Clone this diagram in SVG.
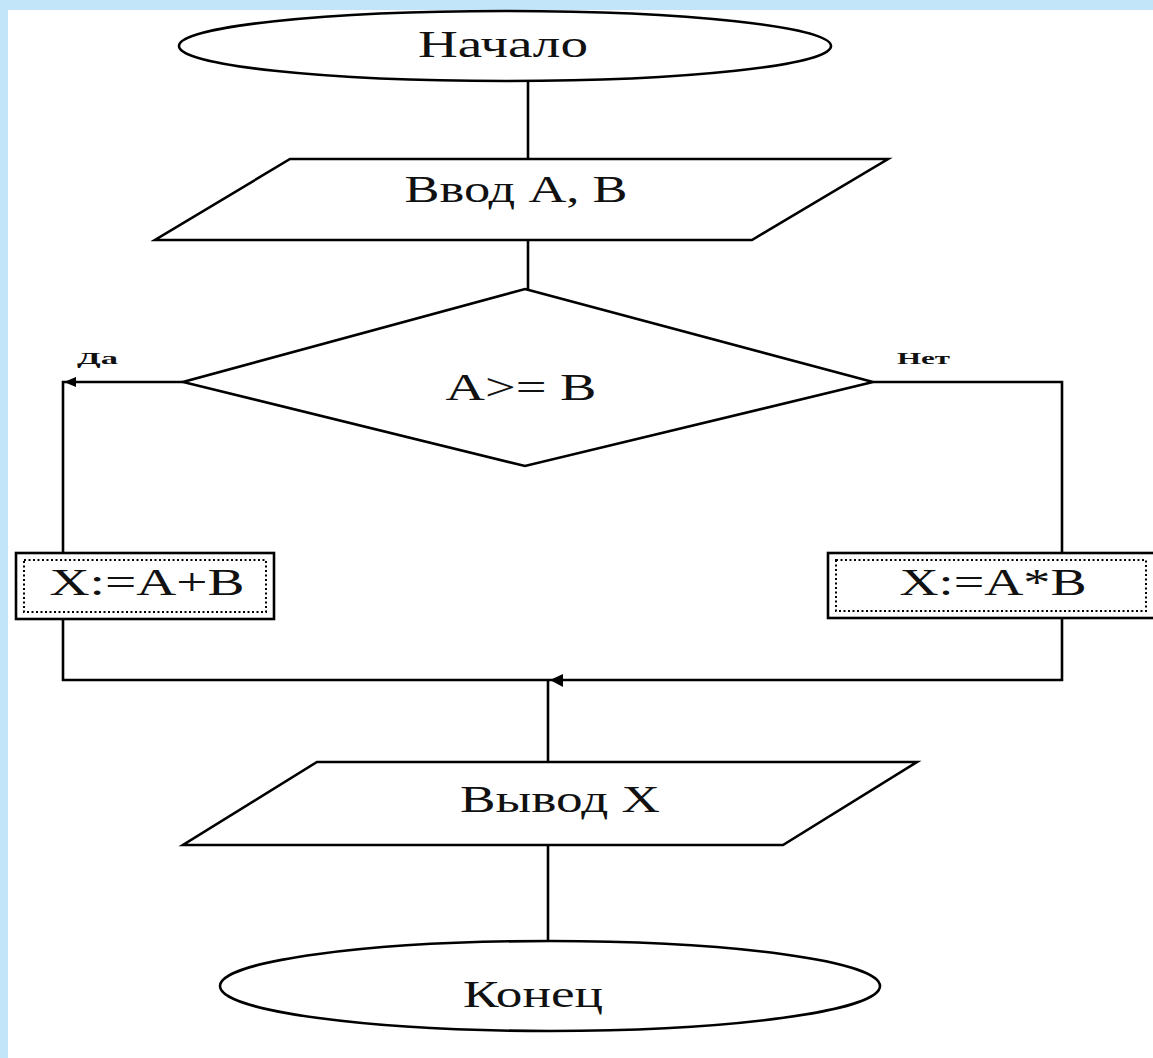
<svg xmlns="http://www.w3.org/2000/svg" width="1153" height="1058" viewBox="0 0 1153 1058">
<style>
.shape{fill:#fff;stroke:#000;stroke-width:2.6}
.line{fill:none;stroke:#000;stroke-width:2.6}
.dot{fill:none;stroke:#000;stroke-width:2;stroke-dasharray:2 2.5}
.t{font-family:"Liberation Serif","Times New Roman",serif;font-size:38px;fill:#111;text-anchor:middle}
.s{font-family:"Liberation Serif","Times New Roman",serif;font-size:16px;font-weight:bold;fill:#111}
</style>
<defs>
<marker id="ah" viewBox="0 0 10 10" refX="2" refY="5" markerWidth="5" markerHeight="5" orient="auto" markerUnits="strokeWidth">
<path d="M0,5 L10,0 L10,10 Z" fill="#000"/>
</marker>
</defs>
<rect x="0" y="0" width="1153" height="1058" fill="#c3e5fa"/>
<rect x="8" y="10" width="1145" height="1048" fill="#fff"/>
<g id="connectors">
<line class="line" x1="528" y1="80" x2="528" y2="159"/>
<line class="line" x1="528" y1="240" x2="528" y2="289"/>
<polyline class="line" points="183,382 63,382 63,553"/>
<path d="M64,382 L76,377 L76,387 Z" fill="#000"/>
<polyline class="line" points="873,382 1062,382 1062,553"/>
<polyline class="line" points="63,619 63,680 1062,680 1062,618"/>
<line class="line" x1="548" y1="680" x2="548" y2="762"/>
<path d="M550,680 L563,674 L563,687 Z" fill="#000"/>
<line class="line" x1="548" y1="845" x2="548" y2="940"/>
<text class="s" x="77" y="364" textLength="41" lengthAdjust="spacingAndGlyphs">Да</text>
<text class="s" x="897" y="364" textLength="53" lengthAdjust="spacingAndGlyphs">Нет</text>
</g>
<g id="start">
<ellipse class="shape" cx="505" cy="46" rx="326" ry="35"/>
<text class="t" x="503" y="57" textLength="170" lengthAdjust="spacingAndGlyphs">Начало</text>
</g>
<g id="input">
<polygon class="shape" points="290,159 888,159 752,240 155,240"/>
<text class="t" x="516" y="202" textLength="223" lengthAdjust="spacingAndGlyphs">Ввод А, В</text>
</g>
<g id="decision">
<polygon class="shape" points="525,289 873,382 525,466 183,382"/>
<text class="t" x="521" y="400" textLength="151" lengthAdjust="spacingAndGlyphs">A&gt;= B</text>
</g>
<g id="yes-box">
<rect class="shape" x="16" y="553" width="258" height="66"/>
<rect class="dot" x="24" y="560" width="242" height="52"/>
<text class="t" x="147" y="595" textLength="195" lengthAdjust="spacingAndGlyphs">X:=A+B</text>
</g>
<g id="no-box">
<rect class="shape" x="828" y="553" width="330" height="65"/>
<rect class="dot" x="836" y="560" width="310" height="51"/>
<text class="t" x="993" y="595" textLength="187" lengthAdjust="spacingAndGlyphs">X:=A*B</text>
</g>
<g id="output">
<polygon class="shape" points="317,762 917,762 783,845 183,845"/>
<text class="t" x="560" y="812" textLength="200" lengthAdjust="spacingAndGlyphs">Вывод X</text>
</g>
<g id="end">
<ellipse class="shape" cx="550" cy="986" rx="330" ry="45"/>
<text class="t" x="533" y="1007" textLength="140" lengthAdjust="spacingAndGlyphs">Конец</text>
</g>
</svg>
